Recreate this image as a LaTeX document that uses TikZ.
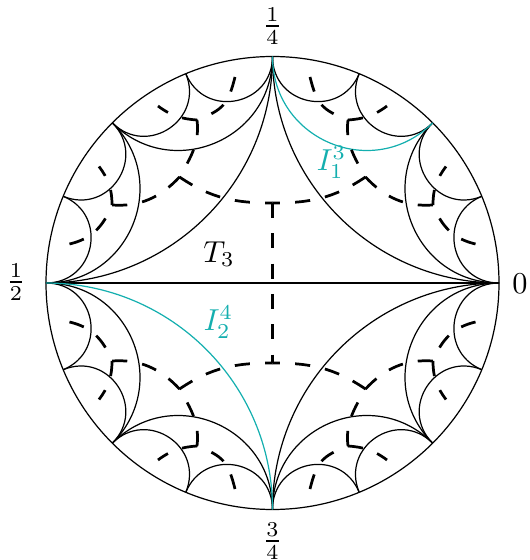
\documentclass[tikz,border=0pt]{standalone}
\definecolor{tealc}{RGB}{20,175,175}
\tikzset{
  geo/.style={line width=0.4pt, draw=black},
  hl/.style={line width=0.4pt, draw=tealc},
  tree/.style={line width=0.9pt, dash pattern=on 5pt off 5pt},
  lab/.style={inner sep=0pt},
}
\begin{document}
\begin{tikzpicture}[x=0.33pt, y=0.33pt]
\useasboundingbox (-272.5,-277) rectangle (256.5,283);
\def\R{226.5}
\draw[geo] (0,0) circle[radius=\R];
\foreach \k in {0,...,16} \coordinate (p\k) at ({22.5*\k}:\R);
% level 4 geodesics
\foreach \k in {0,...,15} {
  \pgfmathsetmacro{\a}{22.5*\k}
  \pgfmathtruncatemacro{\kk}{\k+1}
  \draw[geo] (p\k) .. controls +({\a+180}:49.30) and +({\a+202.5}:49.30) .. (p\kk);
}
% level 3 geodesics
\foreach \k in {0,2,3,4,5,6,7} {
  \pgfmathsetmacro{\a}{45*\k}
  \pgfmathtruncatemacro{\i}{2*\k}
  \pgfmathtruncatemacro{\j}{2*\k+2}
  \draw[geo] (p\i) .. controls +({\a+180}:83.58) and +({\a+225}:83.58) .. (p\j);
}
% level 2 geodesics
\foreach \k in {0,1,3} {
  \pgfmathsetmacro{\a}{90*\k}
  \pgfmathtruncatemacro{\i}{4*\k}
  \pgfmathtruncatemacro{\j}{4*\k+4}
  \draw[geo] (p\i) .. controls +({\a+180}:125.09) and +({\a+270}:125.09) .. (p\j);
}
% level 1
\draw[geo] (p0) -- (p8);
% highlighted geodesics
\draw[hl] (p2) .. controls +(225:83.58) and +(270:83.58) .. (p4);
\draw[hl] (p8) .. controls +(0:125.09) and +(90:125.09) .. (p12);
% dual tree
\coordinate (T) at (0,80);
\coordinate (B) at (0,-80);
\draw[tree] (T) -- (B);
\foreach \sx/\sy/\q in {1/1/a,-1/1/b,1/-1/c,-1/-1/d} {
  \begin{scope}[xscale=\sx,yscale=\sy]
    \coordinate (H\q) at (0,80);
    \coordinate (A\q) at (-93,106);
    \coordinate (L\q) at (-160.5,78);
    \coordinate (S\q) at (-75.5,163);
    \coordinate (Ea\q) at (-173.5,116.5);
    \coordinate (Eb\q) at (-203,39);
    \coordinate (Ec\q) at (-114.5,177);
    \coordinate (Ed\q) at (-37.5,206);
    \draw[tree] (A\q) .. controls +(-34:38) and +(180:38) .. (H\q);
    \draw[tree] (A\q) .. controls +(227:28) and +(-4:28) .. (L\q);
    \draw[tree] (S\q) .. controls +(-83:23) and +(60:23) .. (A\q);
    \draw[tree] (S\q) .. controls +(176:16) and +(-37:16) .. (Ec\q);
    \draw[tree] (Ed\q) .. controls +(256:28) and +(21:28) .. (S\q);
    \draw[tree] (L\q) .. controls +(90:16) and +(-53:16) .. (Ea\q);
    \draw[tree] (Eb\q) .. controls +(13:23) and +(-112:23) .. (L\q);
  \end{scope}
}
% labels
\node[lab] (q1) at (0,257) {$\frac{1}{4}$};
\node[lab] (q2) at (-256.5,1) {$\frac{1}{2}$};
\node[lab] (q3) at (0,-258) {$\frac{3}{4}$};
\node[lab] (q0) at (247.5,-1) {$0$};
\node[lab] (t3) at (-53.5,29) {$T_3$};
\node[lab, text=tealc] (i13) at (59,121) {$I_1^3$};
\node[lab, text=tealc] (i24) at (-54,-39) {$I_2^4$};
\end{tikzpicture}
\end{document}
